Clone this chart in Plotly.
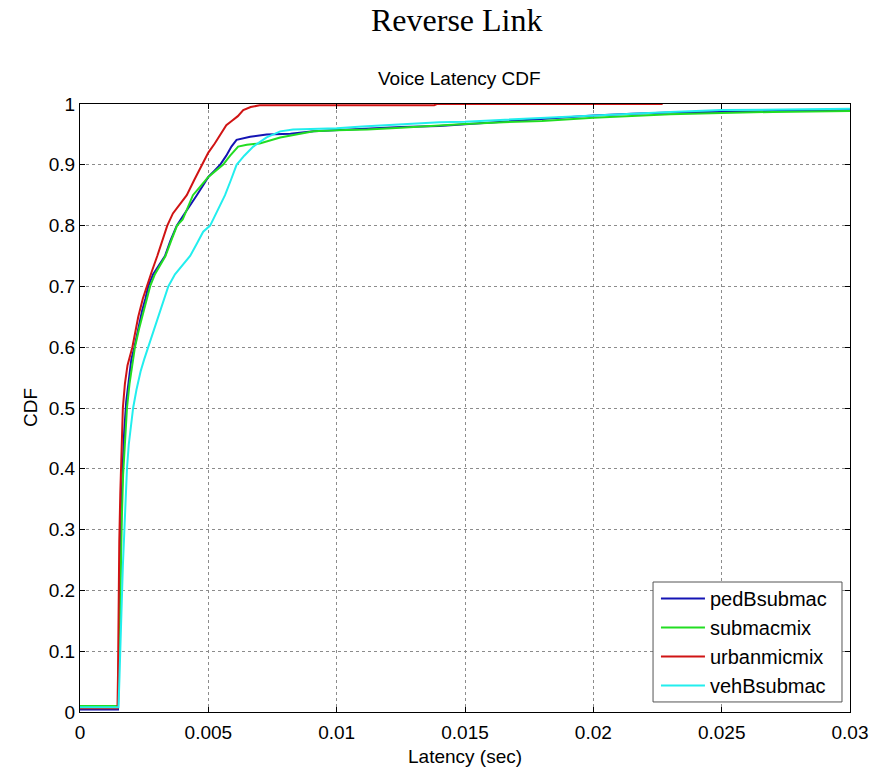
import plotly.graph_objects as go

# Voice latency CDF samples (latency in seconds, cumulative probability)
ped_x = [0, 0.00148, 0.00150, 0.00153, 0.00157, 0.00161, 0.00166, 0.00172, 0.00180, 0.00190,
         0.00200, 0.00212, 0.00226, 0.00242, 0.00255, 0.00266, 0.00285, 0.00308, 0.00331, 0.00352,
         0.00377, 0.00400, 0.00425, 0.00455, 0.00478, 0.00500, 0.00523, 0.00546, 0.00570, 0.00590,
         0.00610, 0.00640, 0.00663, 0.00727, 0.0082, 0.0091, 0.0100, 0.0112, 0.0125, 0.0140,
         0.0150, 0.0165, 0.0180, 0.0200, 0.0215, 0.0230, 0.0250, 0.0270, 0.0300]
ped_y = [0.004, 0.004, 0.05, 0.15, 0.25, 0.33, 0.40, 0.46, 0.51, 0.55,
         0.58, 0.60, 0.63, 0.66, 0.68, 0.70, 0.72, 0.735, 0.75, 0.775,
         0.80, 0.815, 0.83, 0.85, 0.865, 0.88, 0.89, 0.90, 0.915, 0.93,
         0.941, 0.944, 0.946, 0.950, 0.951, 0.955, 0.957, 0.959, 0.962, 0.964,
         0.967, 0.971, 0.975, 0.981, 0.984, 0.986, 0.987, 0.988, 0.990]

sub_x = [0, 0.00148, 0.00151, 0.00155, 0.00159, 0.00163, 0.00168, 0.00175, 0.00183, 0.00193,
         0.00203, 0.00214, 0.00230, 0.00248, 0.00260, 0.00273, 0.00292, 0.00312, 0.00333, 0.00355,
         0.00378, 0.00400, 0.00420, 0.00440, 0.00470, 0.00500, 0.00528, 0.00557, 0.00585, 0.00616,
         0.00650, 0.00700, 0.00780, 0.0085, 0.0091, 0.0100, 0.0112, 0.0125, 0.0140, 0.0150,
         0.0165, 0.0180, 0.0200, 0.0215, 0.0230, 0.0250, 0.0270, 0.0300]
sub_y = [0.010, 0.010, 0.06, 0.16, 0.25, 0.32, 0.39, 0.45, 0.50, 0.54,
         0.57, 0.60, 0.63, 0.66, 0.68, 0.70, 0.72, 0.735, 0.75, 0.775,
         0.80, 0.81, 0.83, 0.85, 0.865, 0.88, 0.89, 0.90, 0.915, 0.93,
         0.933, 0.935, 0.945, 0.950, 0.955, 0.957, 0.958, 0.961, 0.965, 0.967,
         0.970, 0.972, 0.9775, 0.980, 0.983, 0.985, 0.987, 0.9885]

urb_x = [0, 0.00146, 0.00148, 0.00150, 0.00153, 0.00157, 0.00162, 0.00167, 0.00175, 0.00185,
         0.00204, 0.00227, 0.00245, 0.00260, 0.00280, 0.00301, 0.00320, 0.00340, 0.00362, 0.00390,
         0.00416, 0.00445, 0.00474, 0.00500, 0.00525, 0.00546, 0.00570, 0.00591, 0.00615, 0.00636,
         0.00665, 0.00700, 0.0138, 0.0139, 0.0227]
urb_y = [0.006, 0.006, 0.06, 0.18, 0.28, 0.36, 0.43, 0.50, 0.54, 0.57,
         0.60, 0.65, 0.68, 0.70, 0.725, 0.75, 0.775, 0.80, 0.82, 0.835,
         0.85, 0.875, 0.90, 0.92, 0.935, 0.95, 0.965, 0.972, 0.98, 0.99,
         0.995, 0.998, 0.998, 1.0, 1.0]

veh_x = [0, 0.00150, 0.00154, 0.00158, 0.00162, 0.00167, 0.00173, 0.00178, 0.00183, 0.00190,
         0.00198, 0.00207, 0.00220, 0.00236, 0.00250, 0.00266, 0.00285, 0.00305, 0.00325, 0.00344,
         0.00370, 0.00400, 0.00429, 0.00455, 0.00480, 0.00507, 0.00535, 0.00565, 0.00588, 0.00610,
         0.00640, 0.00675, 0.00727, 0.0078, 0.0083, 0.0092, 0.0100, 0.0110, 0.0125, 0.0140,
         0.0150, 0.0165, 0.0180, 0.0200, 0.0215, 0.0230, 0.0250, 0.0270, 0.0300]
veh_y = [0.008, 0.008, 0.06, 0.12, 0.18, 0.24, 0.30, 0.36, 0.40, 0.44,
         0.47, 0.50, 0.53, 0.56, 0.58, 0.60, 0.625, 0.65, 0.675, 0.70,
         0.72, 0.735, 0.75, 0.77, 0.79, 0.80, 0.825, 0.85, 0.875, 0.90,
         0.915, 0.93, 0.945, 0.955, 0.958, 0.959, 0.960, 0.963, 0.967, 0.970,
         0.971, 0.974, 0.977, 0.982, 0.984, 0.987, 0.990, 0.991, 0.992]

series_names = ["pedBsubmac", "submacmix", "urbanmicmix", "vehBsubmac"]
series_x = [ped_x, sub_x, urb_x, veh_x]
series_y = [ped_y, sub_y, urb_y, veh_y]
series_colors = ["#1414b4", "#22dd22", "#d01414", "#22eeee"]

x_ticks = [0, 0.005, 0.01, 0.015, 0.02, 0.025, 0.03]
x_tick_text = ["0", "0.005", "0.01", "0.015", "0.02", "0.025", "0.03"]
y_ticks = [0, 0.1, 0.2, 0.3, 0.4, 0.5, 0.6, 0.7, 0.8, 0.9, 1]
y_tick_text = ["0", "0.1", "0.2", "0.3", "0.4", "0.5", "0.6", "0.7", "0.8", "0.9", "1"]

fig = go.Figure()
for name, xs, ys, col in zip(series_names, series_x, series_y, series_colors):
    fig.add_trace(go.Scatter(x=xs, y=ys, mode="lines", name=name,
                             line=dict(color=col, width=2)))

sans = "Liberation Sans, Arial, sans-serif"
axis_common = dict(showline=True, linecolor="black", linewidth=1, mirror="allticks",
                   ticks="inside", ticklen=5, tickcolor="black",
                   showgrid=True, gridcolor="#8c8c8c", griddash="dot", gridwidth=1,
                   zeroline=False, tickfont=dict(family=sans, size=19, color="black"))

fig.update_xaxes(range=[0, 0.03], tickvals=x_ticks, ticktext=x_tick_text,
                 ticklabelstandoff=3, **axis_common)
fig.update_yaxes(range=[0, 1], tickvals=y_ticks, ticktext=y_tick_text, **axis_common)

# legend frame drawn as a box so it can be wider than the entries
legend_box = dict(type="rect", xref="paper", yref="paper",
                  x0=0.7442, x1=0.9896, y0=0.0165, y1=0.2138,
                  line=dict(color="#555555", width=1), fillcolor="white", layer="above")

fig.update_layout(
    width=881, height=769,
    margin=dict(l=80, r=31, t=104, b=57),
    paper_bgcolor="white", plot_bgcolor="white",
    showlegend=True,
    shapes=[legend_box],
    legend=dict(x=0.748, y=0.2188, xanchor="left", yanchor="top",
                bgcolor="rgba(0,0,0,0)", borderwidth=0,
                font=dict(family=sans, size=20, color="black"),
                itemwidth=44),
    annotations=[
        dict(text="Reverse Link", xref="paper", yref="paper", x=0.4896, xanchor="center",
             y=1, yanchor="bottom", yshift=64, showarrow=False,
             font=dict(family="Liberation Serif, Times New Roman, serif", size=32, color="black")),
        dict(text="Voice Latency CDF", xref="paper", yref="paper", x=0.4935, xanchor="center",
             y=1, yanchor="bottom", yshift=13, showarrow=False,
             font=dict(family=sans, size=19, color="black")),
        dict(text="Latency (sec)", xref="paper", yref="paper", x=0.5, xanchor="center",
             y=0, yanchor="top", yshift=-32, showarrow=False,
             font=dict(family=sans, size=19, color="black")),
        dict(text="CDF", xref="paper", yref="paper", x=0, xanchor="center", xshift=-50,
             y=0.5, yanchor="middle", textangle=-90, showarrow=False,
             font=dict(family=sans, size=19, color="black")),
    ],
)

fig.write_html("out.html")
